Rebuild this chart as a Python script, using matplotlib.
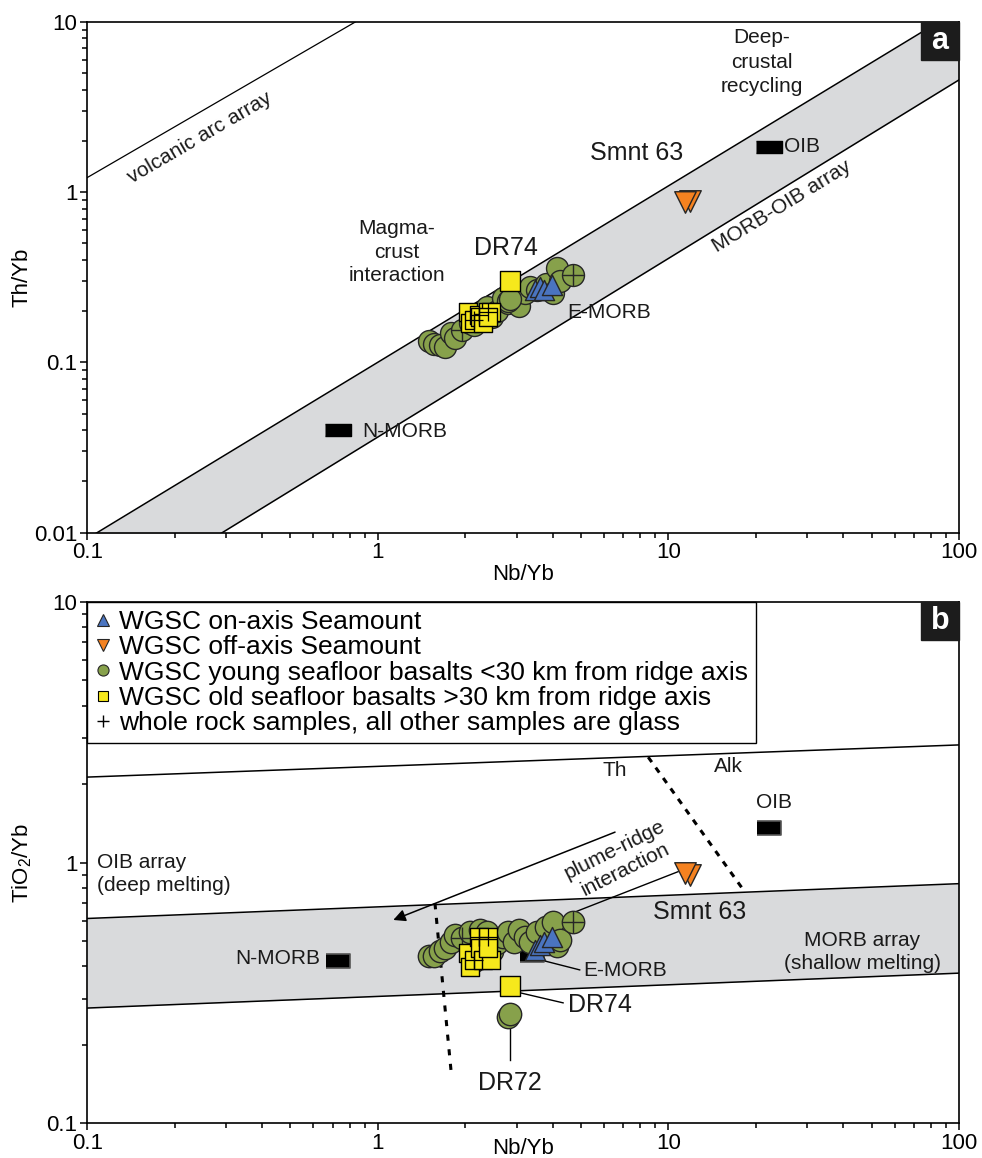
import matplotlib
matplotlib.use('Agg')
import matplotlib.pyplot as plt
from matplotlib.lines import Line2D
from matplotlib.patches import Rectangle
from matplotlib.ticker import FixedLocator, FixedFormatter, LogLocator, NullFormatter

plt.rcParams['font.family'] = ['Liberation Sans', 'DejaVu Sans']
plt.rcParams['mathtext.fontset'] = 'custom'
plt.rcParams['mathtext.rm'] = 'Liberation Sans'
plt.rcParams['mathtext.it'] = 'Liberation Sans:italic'

# ---------------- data ----------------
# WGSC young seafloor basalts (<30 km from ridge axis)
young_nb = [1.50, 1.56, 1.63, 1.70, 1.78, 1.85, 1.95, 2.08, 2.15, 2.25, 2.37, 2.48, 2.58,
            2.70, 2.80, 2.95, 3.05, 3.22, 3.35, 3.52, 3.80, 4.02, 4.12, 4.25, 4.68]
young_th = [0.133, 0.129, 0.127, 0.124, 0.149, 0.140, 0.156, 0.170, 0.165, 0.180, 0.213, 0.185, 0.200,
            0.239, 0.225, 0.243, 0.215, 0.255, 0.279, 0.265, 0.290, 0.255, 0.358, 0.300, 0.327]
young_ti = [0.44, 0.44, 0.46, 0.47, 0.497, 0.527, 0.512, 0.542, 0.42, 0.55, 0.542, 0.46, 0.49,
            0.52, 0.542, 0.497, 0.55, 0.52, 0.497, 0.542, 0.567, 0.593, 0.48, 0.504, 0.593]
young_wr = [0, 0, 0, 0, 0, 0, 1, 0, 0, 0, 0, 0, 0,
            0, 0, 0, 0, 0, 0, 0, 0, 0, 0, 0, 1]
# DR72 (young seafloor, low TiO2)
dr72_nb = [2.80, 2.85]
dr72_th = [0.230, 0.236]
dr72_ti = [0.255, 0.262]

# WGSC old seafloor basalts (>30 km)
old_nb = [2.05, 2.07, 2.14, 2.22, 2.25, 2.30, 2.40, 2.46, 2.40]
old_th = [0.199, 0.170, 0.178, 0.190, 0.186, 0.170, 0.199, 0.199, 0.185]
old_ti = [0.451, 0.398, 0.425, 0.519, 0.472, 0.425, 0.519, 0.423, 0.472]
old_wr = [0, 0, 1, 1, 0, 0, 1, 0, 0]
# DR74 (old seafloor)
dr74_nb = [2.86]
dr74_th = [0.302]
dr74_ti = [0.336]

# WGSC on-axis seamount
on_nb = [3.46, 3.61, 3.73, 3.96]
on_th = [0.267, 0.279, 0.267, 0.284]
on_ti = [0.463, 0.483, 0.498, 0.520]

# WGSC off-axis seamount (Smnt 63)
off_nb = [11.9, 11.4]
off_th = [0.89, 0.88]
off_ti = [0.90, 0.913]

# reference compositions
ref_names = ['N-MORB', 'E-MORB', 'OIB']
ref_nb = [0.73, 3.40, 22.2]
ref_th = [0.040, 0.26, 1.85]
ref_ti = [0.42, 0.443, 1.36]

# array boundaries
arr_x = [0.1, 100]
arc_x = [0.1, 0.836]
arc_th = [1.22, 10.0]
morboib_upper = [0.00923, 11.84]
morboib_lower = [0.00326, 4.57]
morb_upper_ti = [0.611, 0.831]
morb_lower_ti = [0.277, 0.377]
oib_line_ti = [2.13, 2.83]
thalk_x = [8.52, 18.3]
thalk_ti = [2.54, 0.774]
mix_x = [1.572, 1.785]
mix_ti = [0.699, 0.160]

xticks = [0.1, 1, 10, 100]
xticklabels = ['0.1', '1', '10', '100']
ya_ticks = [0.01, 0.1, 1, 10]
ya_labels = ['0.01', '0.1', '1', '10']
yb_ticks = [0.1, 1, 10]
yb_labels = ['0.1', '1', '10']

# ---------------- style ----------------
W, H = 982, 1158
GREEN = '#87a14b'
YELLOW = '#f6e81c'
BLUE = '#4a74c0'
ORANGE = '#f58220'
BAND = '#d9dadc'
EDGE = '#262626'

fig = plt.figure(figsize=(W / 100, H / 100), dpi=100)


def rect(l, t, r, b):
    return [l / W, 1 - b / H, (r - l) / W, (b - t) / H]


def ftext(x, y, s, **kw):
    kw.setdefault('fontsize', 15)
    kw.setdefault('ha', 'center')
    kw.setdefault('va', 'center')
    kw.setdefault('color', '#1a1a1a')
    return fig.text(x / W, 1 - y / H, s, **kw)


axA = fig.add_axes(rect(87.3, 22, 959, 532.7))
axB = fig.add_axes(rect(87.3, 602, 959, 1123.4))

for ax, yl, yt, ytl in [(axA, (0.01, 10), ya_ticks, ya_labels), (axB, (0.1, 10), yb_ticks, yb_labels)]:
    ax.set_xscale('log')
    ax.set_yscale('log')
    ax.set_xlim(0.1, 100)
    ax.set_ylim(*yl)
    ax.xaxis.set_major_locator(FixedLocator(xticks))
    ax.xaxis.set_major_formatter(FixedFormatter(xticklabels))
    ax.yaxis.set_major_locator(FixedLocator(yt))
    ax.yaxis.set_major_formatter(FixedFormatter(ytl))
    ax.xaxis.set_minor_locator(LogLocator(base=10, subs=range(2, 10)))
    ax.yaxis.set_minor_locator(LogLocator(base=10, subs=range(2, 10)))
    ax.xaxis.set_minor_formatter(NullFormatter())
    ax.yaxis.set_minor_formatter(NullFormatter())
    ax.tick_params(which='both', direction='out', top=False, right=False, width=1.1,
                   labelsize=16, pad=2, colors='black')
    ax.tick_params(which='major', length=5)
    ax.tick_params(which='minor', length=3.5)
    for sp in ax.spines.values():
        sp.set_linewidth(1.2)

# ---------------- panel a ----------------
axA.fill_between(arr_x, morboib_lower, morboib_upper, color=BAND, lw=0, zorder=1)
axA.plot(arr_x, morboib_upper, color='black', lw=1.1, zorder=2)
axA.plot(arr_x, morboib_lower, color='black', lw=1.1, zorder=2)
axA.plot(arc_x, arc_th, color='black', lw=0.9, zorder=2)

mrect = [(-1, -0.42), (1, -0.42), (1, 0.42), (-1, 0.42)]
axA.scatter(ref_nb, ref_th, marker=mrect, s=19 ** 2, color='black', zorder=3)

young_wr_nb = [x for x, f in zip(young_nb, young_wr) if f]
young_wr_th = [y for y, f in zip(young_th, young_wr) if f]
young_wr_ti = [y for y, f in zip(young_ti, young_wr) if f]
old_wr_nb = [x for x, f in zip(old_nb, old_wr) if f]
old_wr_th = [y for y, f in zip(old_th, old_wr) if f]
old_wr_ti = [y for y, f in zip(old_ti, old_wr) if f]

axA.scatter(young_nb + dr72_nb, young_th + dr72_th, s=250, marker='o', facecolor=GREEN,
            edgecolor=EDGE, linewidth=1.0, zorder=4)
axA.scatter(young_wr_nb, young_wr_th, s=230, marker='+', color=EDGE, linewidth=1.0, zorder=4.5)
axA.scatter(old_nb, old_th, s=165, marker='s', facecolor=YELLOW, edgecolor='black', linewidth=1.0, zorder=5)
axA.scatter(old_wr_nb, old_wr_th, s=150, marker='+', color='black', linewidth=0.9, zorder=5.5)
axA.scatter(dr74_nb, dr74_th, s=225, marker='s', facecolor=YELLOW, edgecolor='black', linewidth=1.0, zorder=6)
axA.scatter(on_nb, on_th, s=210, marker='^', facecolor=BLUE, edgecolor=EDGE, linewidth=1.0, zorder=6)
axA.scatter(off_nb, off_th, s=240, marker='v', facecolor=ORANGE, edgecolor=EDGE, linewidth=1.0, zorder=6)

axA.add_patch(Rectangle((1 - 38 / 871.7, 1 - 38 / 510.7), 38 / 871.7, 38 / 510.7,
                        transform=axA.transAxes, color='#1c1c1c', zorder=10, clip_on=False))
axA.text(1 - 19 / 871.7, 1 - 19 / 510.7, 'a', transform=axA.transAxes, color='white',
         fontsize=22, fontweight='bold', ha='center', va='center', zorder=11)

axA.set_xlabel('Nb/Yb', fontsize=16, va='center')
axA.xaxis.set_label_coords(0.5, -(575 - 532.7) / 510.7)
axA.set_ylabel('Th/Yb', fontsize=16, va='center')
axA.yaxis.set_label_coords((22 - 87.3) / 871.7, 0.5)

ftext(200, 138, 'volcanic arc array', rotation=30.2)
ftext(762, 62, 'Deep-\ncrustal\nrecycling', linespacing=1.35)
ftext(637, 153, 'Smnt 63', fontsize=18)
ftext(784, 147, 'OIB', ha='left')
ftext(782, 206, 'MORB-OIB array', rotation=31.5)
ftext(397, 252, 'Magma-\ncrust\ninteraction', linespacing=1.3)
ftext(506, 248, 'DR74', fontsize=18)
ftext(567, 312, 'E-MORB', ha='left')
ftext(362, 431, 'N-MORB', ha='left')

# ---------------- panel b ----------------
axB.fill_between(arr_x, morb_lower_ti, morb_upper_ti, color=BAND, lw=0, zorder=1)
axB.plot(arr_x, morb_upper_ti, color='black', lw=1.1, zorder=2)
axB.plot(arr_x, morb_lower_ti, color='black', lw=1.1, zorder=2)
axB.plot(arr_x, oib_line_ti, color='black', lw=1.1, zorder=2)
axB.plot(thalk_x, thalk_ti, color='black', lw=2.2, ls=(0, (2.0, 2.2)), zorder=2)
axB.plot(mix_x, mix_ti, color='black', lw=2.2, ls=(0, (2.0, 2.8)), zorder=2)
axB.annotate('', xy=(1.13, 0.603), xytext=(6.55, 1.31),
             arrowprops=dict(arrowstyle='-|>', color='black', lw=1.1, mutation_scale=18,
                             shrinkA=0, shrinkB=0), zorder=2)
# leader lines
axB.plot([10.8, 4.65], [0.924, 0.64], color='black', lw=1.0, zorder=2)
axB.plot([3.42, 4.95], [0.431, 0.388], color='black', lw=1.0, zorder=2)
axB.plot([3.12, 4.34], [0.316, 0.290], color='black', lw=1.0, zorder=2)
axB.plot([2.84, 2.84], [0.236, 0.175], color='black', lw=1.0, zorder=2)

mrect_b = [(-1, -0.6), (1, -0.6), (1, 0.6), (-1, 0.6)]
axB.scatter(ref_nb, ref_ti, marker=mrect_b, s=17 ** 2, facecolor='black', edgecolor='#555555',
            linewidth=1.2, zorder=3)

axB.scatter(young_nb + dr72_nb, young_ti + dr72_ti, s=260, marker='o', facecolor=GREEN,
            edgecolor=EDGE, linewidth=1.0, zorder=4)
axB.scatter(young_wr_nb, young_wr_ti, s=240, marker='+', color=EDGE, linewidth=1.0, zorder=4.5)
axB.scatter(old_nb, old_ti, s=165, marker='s', facecolor=YELLOW, edgecolor='black', linewidth=1.0, zorder=5)
axB.scatter(old_wr_nb, old_wr_ti, s=150, marker='+', color='black', linewidth=0.9, zorder=5.5)
axB.scatter(dr74_nb, dr74_ti, s=225, marker='s', facecolor=YELLOW, edgecolor='black', linewidth=1.0, zorder=6)
axB.scatter(on_nb, on_ti, s=210, marker='^', facecolor=BLUE, edgecolor=EDGE, linewidth=1.0, zorder=6)
axB.scatter(off_nb, off_ti, s=240, marker='v', facecolor=ORANGE, edgecolor=EDGE, linewidth=1.0, zorder=6)

axB.add_patch(Rectangle((1 - 38 / 871.7, 1 - 38 / 521.4), 38 / 871.7, 38 / 521.4,
                        transform=axB.transAxes, color='#1c1c1c', zorder=10, clip_on=False))
axB.text(1 - 19 / 871.7, 1 - 19 / 521.4, 'b', transform=axB.transAxes, color='white',
         fontsize=22, fontweight='bold', ha='center', va='center', zorder=11)

axB.set_xlabel('Nb/Yb', fontsize=16, va='center')
axB.xaxis.set_label_coords(0.5, -(1149 - 1123.4) / 521.4)
axB.set_ylabel('TiO$_2$/Yb', fontsize=16, va='center')
axB.yaxis.set_label_coords((22 - 87.3) / 871.7, 0.5)

handles = [
    Line2D([], [], ls='', marker='^', ms=8, mfc=BLUE, mec=EDGE, mew=0.8),
    Line2D([], [], ls='', marker='v', ms=8, mfc=ORANGE, mec=EDGE, mew=0.8),
    Line2D([], [], ls='', marker='o', ms=8, mfc=GREEN, mec=EDGE, mew=0.8),
    Line2D([], [], ls='', marker='s', ms=7.5, mfc=YELLOW, mec='black', mew=0.8),
    Line2D([], [], ls='', marker='+', ms=8, color='black', mew=1.0),
]
labels = ['WGSC on-axis Seamount', 'WGSC off-axis Seamount',
          'WGSC young seafloor basalts <30 km from ridge axis',
          'WGSC old seafloor basalts >30 km from ridge axis',
          'whole rock samples, all other samples are glass']
leg = axB.legend(handles, labels, loc='upper left', bbox_to_anchor=(0, 1), borderaxespad=0,
                 fontsize=19, frameon=True, fancybox=False, edgecolor='black', framealpha=1,
                 handlelength=0.6, handletextpad=0.3, labelspacing=0.05, borderpad=0.3)
leg.get_frame().set_linewidth(1.0)
leg.set_zorder(12)

ftext(615, 770, 'Th')
ftext(728, 767, 'Alk')
ftext(774, 803, 'OIB')
ftext(97, 874, 'OIB array\n(deep melting)', ha='left', linespacing=1.3)
ftext(620, 860, 'plume-ridge\ninteraction', rotation=26.6, linespacing=1.2)
ftext(700, 912, 'Smnt 63', fontsize=18)
ftext(862, 952, 'MORB array\n(shallow melting)', linespacing=1.25)
ftext(320, 958, 'N-MORB', ha='right')
ftext(583, 970, 'E-MORB', ha='left')
ftext(568, 1005, 'DR74', ha='left', fontsize=18)
ftext(510, 1083, 'DR72', fontsize=18)

fig.savefig('out.png', dpi=100)
